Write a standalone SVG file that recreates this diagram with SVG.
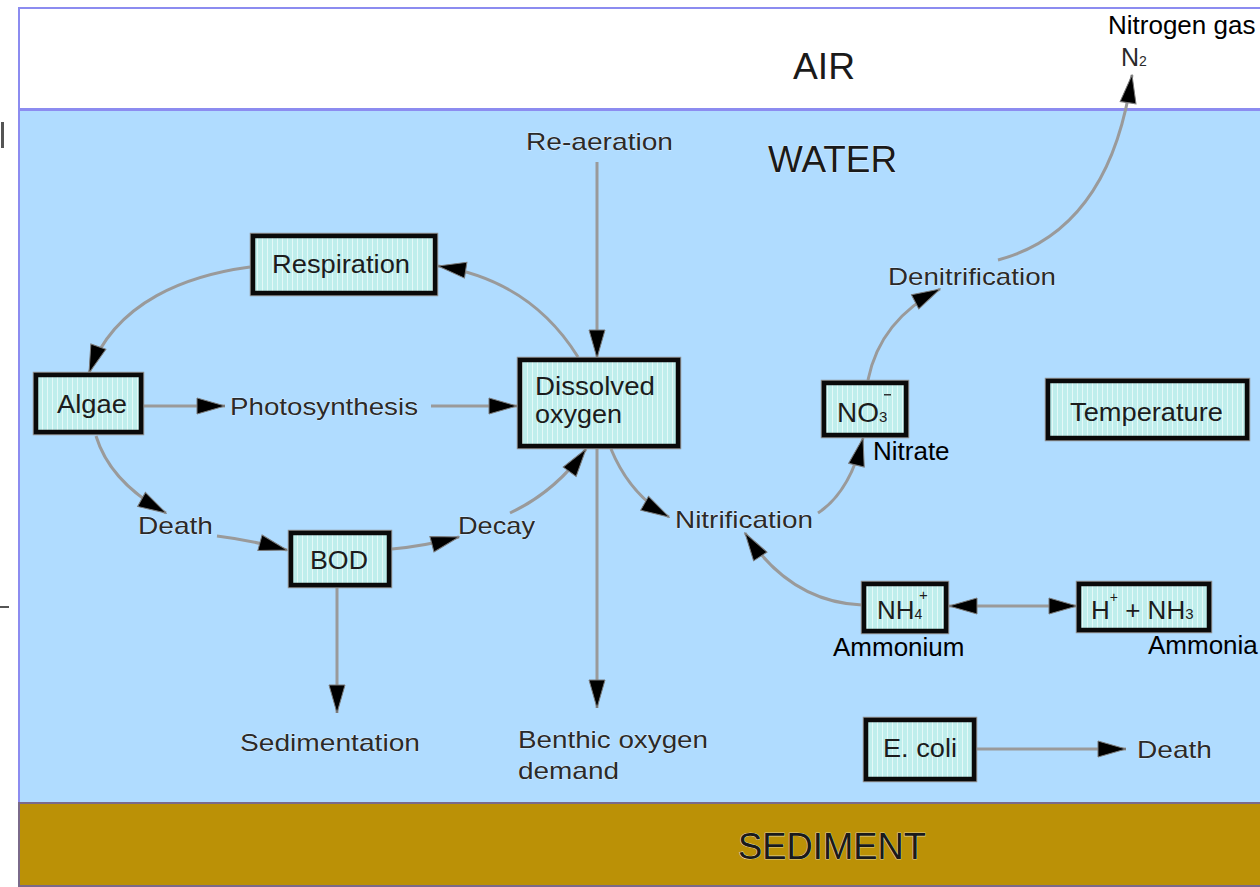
<svg xmlns="http://www.w3.org/2000/svg" width="1260" height="887" viewBox="0 0 1260 887">
<style>
.lbl{font-family:"Liberation Sans",Arial,sans-serif;font-size:24px;fill:#2a2a2a;stroke:#ffffff;stroke-width:0.5px;paint-order:stroke}
.btxt{font-family:"Liberation Sans",Arial,sans-serif;font-size:25px;fill:#1c1c1c}
.blk{font-family:"Liberation Sans",Arial,sans-serif;font-size:26px;fill:#000}
.zone{font-family:"Liberation Sans",Arial,sans-serif;font-size:36px;fill:#1a1a1a;stroke:#ffffff;stroke-width:0.6px;paint-order:stroke}
.box{fill:url(#stripe);stroke:#0a0a0a;stroke-width:4.5}
.boxo{fill:none;stroke:#8f8f8f;stroke-width:1.5}
.con{fill:none;stroke:#9a9a9a;stroke-width:3;marker-end:url(#ah)}
</style>
<defs>
<pattern id="stripe" width="5" height="10" patternUnits="userSpaceOnUse">
<rect width="5" height="10" fill="#bfeeec"/>
<rect x="2" width="1" height="10" fill="#e4f9f8"/>
</pattern>
<marker id="ah" markerUnits="userSpaceOnUse" viewBox="0 0 30 18" markerWidth="30" markerHeight="18" refX="29" refY="9" orient="auto-start-reverse">
<path d="M1,1 L29,9 L1,17 Z" fill="#000" stroke="#7a7a7a" stroke-width="1"/>
</marker>
</defs>
<rect width="1260" height="887" fill="#ffffff"/>
<g id="zones">
<rect x="19" y="8" width="1250" height="101" fill="#ffffff" stroke="#8c8cf0" stroke-width="2"/>
<rect x="19" y="110" width="1250" height="693" fill="#b0dcff" stroke="#8c8cf0" stroke-width="2"/>
<rect x="19" y="803" width="1250" height="83" fill="#bb9106" stroke="#7a6a8a" stroke-width="2"/>
<rect x="1" y="122" width="3" height="26" fill="#555"/>
<rect x="0" y="606" width="9" height="2" fill="#555"/>
<text class="zone" x="793" y="79" textLength="62" lengthAdjust="spacingAndGlyphs">AIR</text>
<text class="zone" x="768" y="172" textLength="129" lengthAdjust="spacingAndGlyphs">WATER</text>
<text class="zone" x="738" y="859" textLength="188" lengthAdjust="spacingAndGlyphs">SEDIMENT</text>
</g>
<g id="connectors">
<path class="con" d="M597,162 L597,358"/>
<path class="con" d="M578,357 Q530,280 438,266"/>
<path class="con" d="M250,267 C190,275 115,300 89,373"/>
<path class="con" d="M144,406 L225,406"/>
<path class="con" d="M431,406 L517,406"/>
<path class="con" d="M96,436 Q110,482 166,513"/>
<path class="con" d="M217,536 Q250,540 287,550"/>
<path class="con" d="M392,549 Q425,546 459,537"/>
<path class="con" d="M510,513 Q555,492 586,449"/>
<path class="con" d="M337,588 L337,713"/>
<path class="con" d="M597,449 L597,708"/>
<path class="con" d="M611,449 Q630,495 669,517"/>
<path class="con" d="M818,513 Q850,492 863,438"/>
<path class="con" d="M862,605 Q790,602 745,533"/>
<path class="con" d="M949,606 L1077,606" marker-start="url(#ah)"/>
<path class="con" d="M868,380 Q880,320 940,289"/>
<path class="con" d="M998,260 Q1110,230 1132,75"/>
<path class="con" d="M977,749 L1126,749"/>
</g>
<g id="respiration">
<rect class="boxo" x="250.5" y="233.5" width="187" height="62"/>
<rect class="box" x="253" y="236" width="182" height="57"/>
<text class="btxt" x="272" y="273" textLength="138" lengthAdjust="spacingAndGlyphs">Respiration</text>
</g>
<g id="algae">
<rect class="boxo" x="33.5" y="372.5" width="110" height="62"/>
<rect class="box" x="36" y="375" width="105" height="57"/>
<text class="btxt" x="57" y="413" textLength="70" lengthAdjust="spacingAndGlyphs">Algae</text>
</g>
<g id="dissolved-oxygen">
<rect class="boxo" x="517.5" y="357.5" width="163" height="91"/>
<rect class="box" x="520" y="360" width="158" height="86"/>
<text class="btxt" x="535" y="395" textLength="120" lengthAdjust="spacingAndGlyphs">Dissolved</text>
<text class="btxt" x="535" y="423" textLength="87" lengthAdjust="spacingAndGlyphs">oxygen</text>
</g>
<g id="bod">
<rect class="boxo" x="288.5" y="530.5" width="103" height="57"/>
<rect class="box" x="291" y="533" width="98" height="52"/>
<text class="btxt" x="310" y="569" textLength="58" lengthAdjust="spacingAndGlyphs">BOD</text>
</g>
<g id="nitrate">
<rect class="boxo" x="821.5" y="380.5" width="87" height="57"/>
<rect class="box" x="824" y="383" width="82" height="52"/>
<text class="btxt" x="837" y="422" style="font-size:28px">NO<tspan style="font-size:15px">3</tspan></text>
<rect x="884" y="394" width="7" height="1.5" fill="#333"/>
<text class="blk" x="873" y="460">Nitrate</text>
</g>
<g id="temperature">
<rect class="boxo" x="1045.5" y="378.5" width="204" height="62"/>
<rect class="box" x="1048" y="381" width="199" height="57"/>
<text class="btxt" x="1070" y="421" textLength="153" lengthAdjust="spacingAndGlyphs">Temperature</text>
</g>
<g id="ammonium">
<rect class="boxo" x="861.5" y="581.5" width="87" height="52"/>
<rect class="box" x="864" y="584" width="82" height="47"/>
<text class="btxt" x="877" y="619" style="font-size:26px">NH<tspan style="font-size:14px">4</tspan></text>
<text class="btxt" x="919" y="600" style="font-size:15px">+</text>
<text class="blk" x="833" y="656">Ammonium</text>
</g>
<g id="ammonia">
<rect class="boxo" x="1076.5" y="581.5" width="135" height="51"/>
<rect class="box" x="1079" y="584" width="130" height="46"/>
<text class="btxt" x="1091" y="619" style="font-size:26px">H<tspan style="font-size:14px" dy="-17">+</tspan><tspan dy="17"> + NH</tspan><tspan style="font-size:15px">3</tspan></text>
<text class="blk" x="1148" y="654">Ammonia</text>
</g>
<g id="ecoli">
<rect class="boxo" x="863.5" y="717.5" width="113" height="64"/>
<rect class="box" x="866" y="720" width="108" height="59"/>
<text class="btxt" x="883" y="757" textLength="74" lengthAdjust="spacingAndGlyphs">E. coli</text>
</g>
<g id="labels">
<text class="lbl" x="526" y="150" textLength="147" lengthAdjust="spacingAndGlyphs">Re-aeration</text>
<text class="lbl" x="230" y="415" textLength="188" lengthAdjust="spacingAndGlyphs">Photosynthesis</text>
<text class="lbl" x="138" y="534" textLength="75" lengthAdjust="spacingAndGlyphs">Death</text>
<text class="lbl" x="458" y="534" textLength="77" lengthAdjust="spacingAndGlyphs">Decay</text>
<text class="lbl" x="240" y="751" textLength="180" lengthAdjust="spacingAndGlyphs">Sedimentation</text>
<text class="lbl" x="518" y="748" textLength="190" lengthAdjust="spacingAndGlyphs">Benthic oxygen</text>
<text class="lbl" x="518" y="779" textLength="101" lengthAdjust="spacingAndGlyphs">demand</text>
<text class="lbl" x="675" y="528" textLength="138" lengthAdjust="spacingAndGlyphs">Nitrification</text>
<text class="lbl" x="888" y="285" textLength="168" lengthAdjust="spacingAndGlyphs">Denitrification</text>
<text class="lbl" x="1137" y="758" textLength="75" lengthAdjust="spacingAndGlyphs">Death</text>
<text class="lbl" x="1121" y="66" style="font-size:25px">N<tspan style="font-size:14px">2</tspan></text>
<text class="blk" x="1108" y="34">Nitrogen gas</text>
</g>
</svg>
